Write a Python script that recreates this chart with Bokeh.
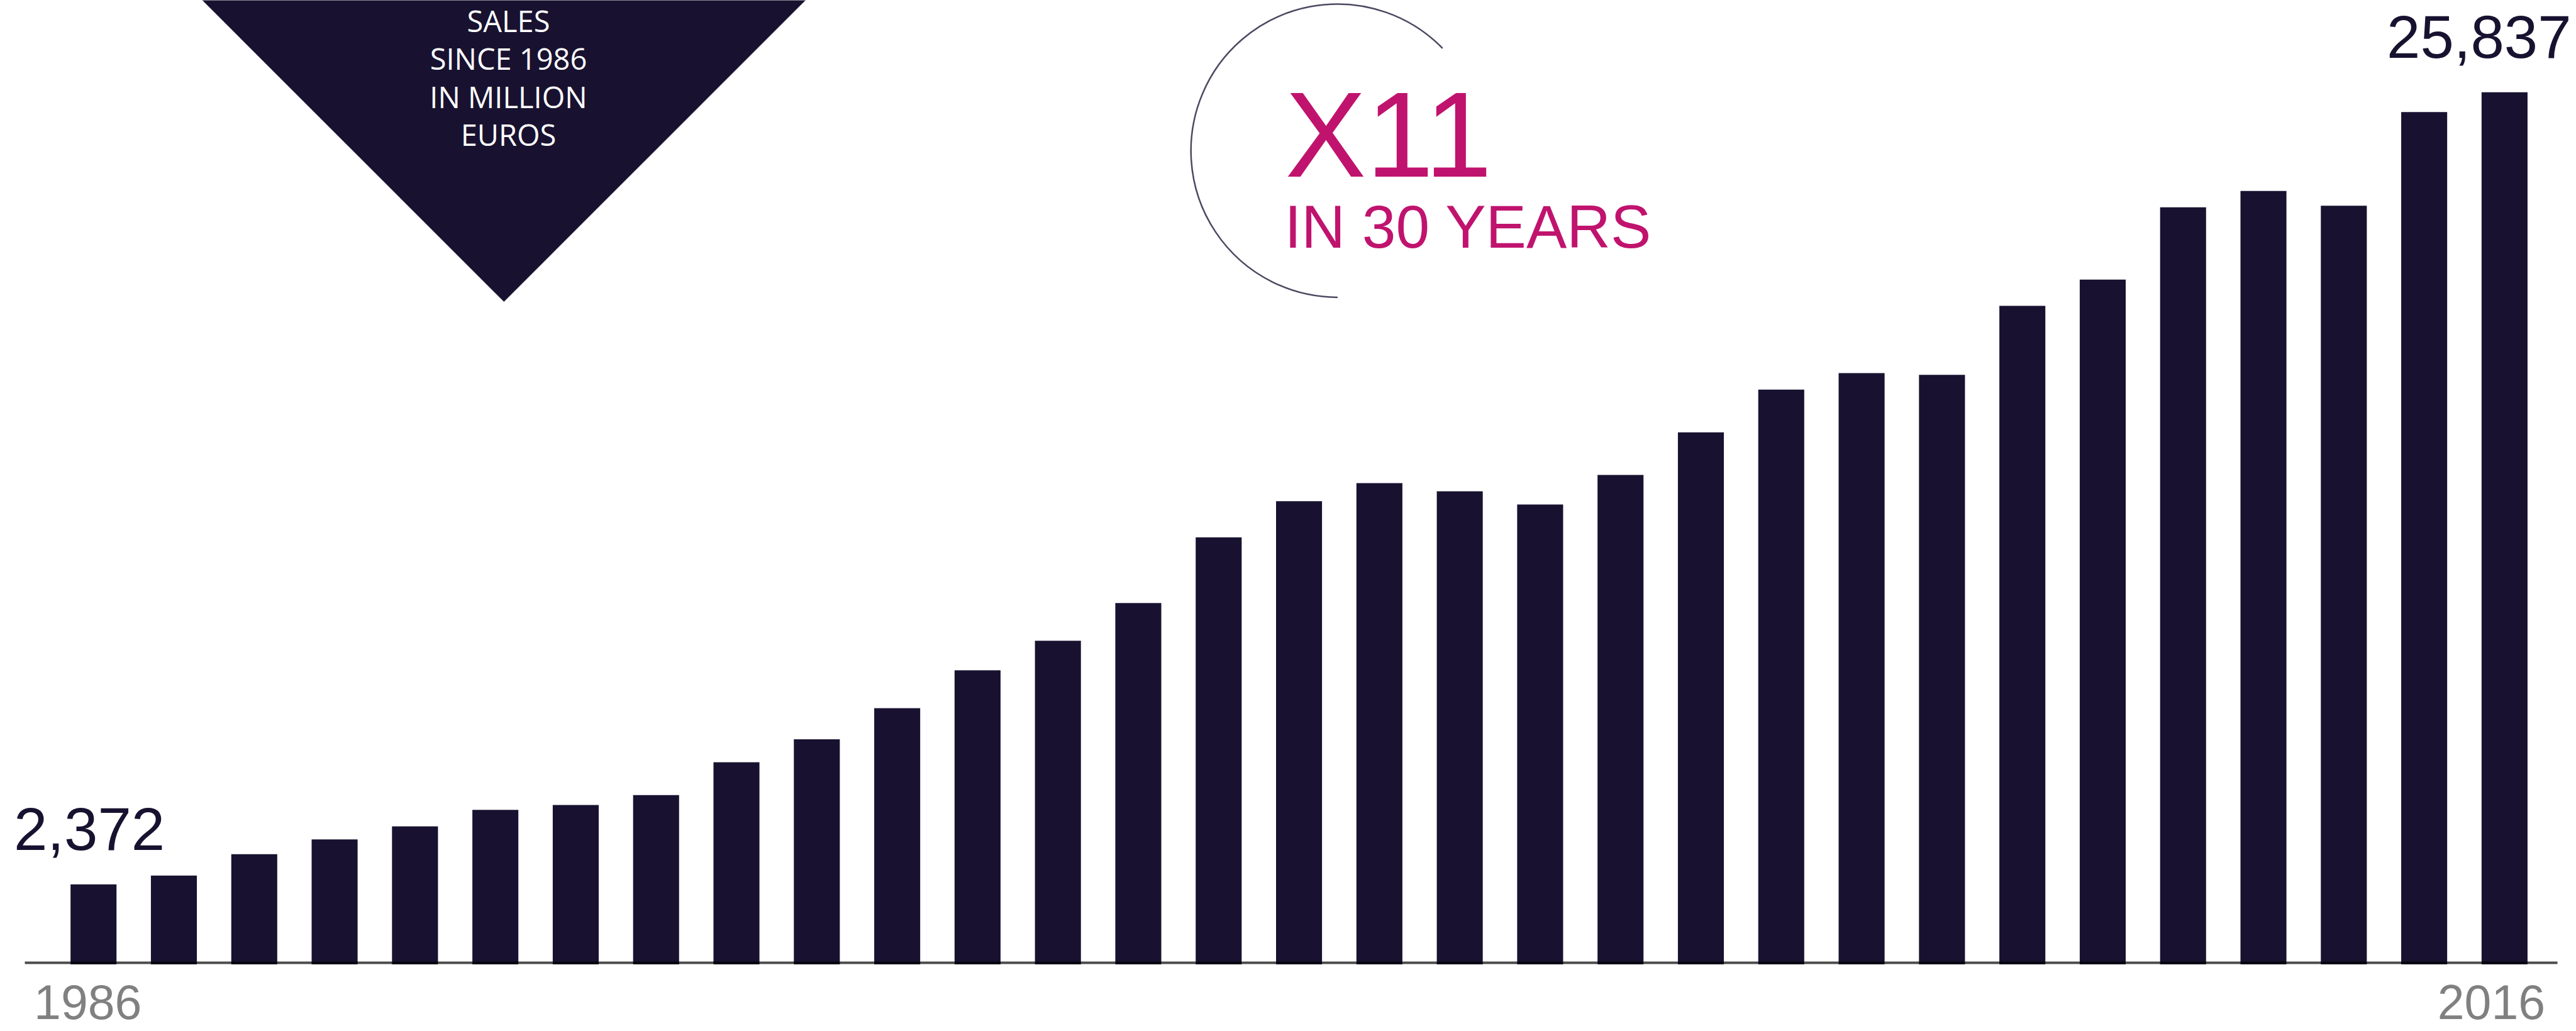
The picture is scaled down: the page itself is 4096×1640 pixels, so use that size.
import numpy as np
from bokeh.plotting import figure
from bokeh.models import Range1d
from bokeh.core.properties import value
from bokeh.embed import file_html
from bokeh.resources import INLINE

# ---------------- data ----------------
years = list(range(1986, 2017))
sales = [2372, 2631, 3264, 3701, 4090, 4577, 4723, 5015, 5987, 6668,
         7592, 8711, 9587, 10705, 12651, 13721, 14256, 14013, 13624, 14499,
         15763, 17028, 17514, 17466, 19509, 20287, 22427, 22913, 22476, 25248,
         25837]
title_lines = ["SALES", "SINCE 1986", "IN MILLION", "EUROS"]
callout_big = "X11"
callout_small = "IN 30 YEARS"

# ---------------- styling ----------------
NAVY = "#181230"
MAGENTA = "#c0136e"
GREY = "#808080"
ARC_COLOR = "#4b4a62"

W, H = 4096, 1640
PX = 127.79          # screen px per year
X0F = 148.2          # screen x of first year's bar centre
Y0F = 1533.6         # screen y (from top) of value 0
KY = 0.05370         # screen px per million euros


def xpx(fx):
    return years[0] + (fx - X0F) / PX


def ypx(fy):
    return (Y0F - fy) / KY


def base(fy, size, frac=0.36):
    # compensate renderer's baseline placement
    return ypx(fy - frac * size)


p = figure(width=W, height=H, x_range=Range1d(xpx(0), xpx(W)),
           y_range=Range1d(ypx(H), ypx(0)), x_axis_type=None, y_axis_type=None,
           output_backend="svg", toolbar_location=None, min_border=0,
           outline_line_color=None, background_fill_color="white",
           border_fill_color="white")
p.grid.visible = False

# triangle banner (top-left)
apex_x, apex_y = 800.8, 479.5
top_y = -40
p.patch(x=[xpx(apex_x - (apex_y - top_y)), xpx(apex_x + (apex_y - top_y)), xpx(apex_x)],
        y=[ypx(top_y), ypx(top_y), ypx(apex_y)], fill_color=NAVY, line_color=None)

tx = xpx(808.0)
line_base = [51.0, 111.5, 172.0, 232.5]
p.text(x=[tx] * len(title_lines), y=[base(b, 47, 0.40) for b in line_base], text=title_lines,
       text_font=value("Open Sans"), text_font_size="47px", text_color="white",
       text_align="center", text_baseline="alphabetic")

# bars
p.vbar(x=years, top=sales, bottom=0, width=0.572, fill_color=NAVY, line_color=None)

# baseline
p.segment(x0=[xpx(39)], y0=[ypx(Y0F - 2.5)], x1=[xpx(4066)], y1=[ypx(Y0F - 2.5)],
          line_color="black", line_alpha=0.7, line_width=4)

# first / last value labels
gap = (53.4 + 0.36 * 96) / KY
p.text(x=[years[0] - 6.6 / PX, years[-1] - 40.6 / PX],
       y=[sales[0] + gap, sales[-1] + gap],
       text=[f"{sales[0]:,}", f"{sales[-1]:,}"],
       text_font=value("Liberation Sans"), text_font_size="96px", text_color=NAVY,
       text_align="center", text_baseline="alphabetic")

# first / last year labels
p.text(x=[years[0] - 9.0 / PX, years[-1] - 21.0 / PX], y=[base(1621.5, 77)] * 2,
       text=[str(years[0]), str(years[-1])],
       text_font=value("Liberation Sans"), text_font_size="77px", text_color=GREY,
       text_align="center", text_baseline="alphabetic")

# callout arc
p.arc(x=[xpx(2126.4)], y=[ypx(239.2)], radius=233.2, radius_units="screen",
      start_angle=np.deg2rad(44.3), end_angle=np.deg2rad(270), direction="anticlock",
      line_color=ARC_COLOR, line_width=2.5)

p.text(x=[xpx(2043)], y=[base(276.8, 193, 0.33)], text=[callout_big],
       text_font=value("Liberation Sans"), text_font_size="193px", text_color=MAGENTA,
       text_align="left", text_baseline="alphabetic")
p.text(x=[xpx(2042)], y=[base(394.6, 96.5)], text=[callout_small],
       text_font=value("Liberation Sans"), text_font_size="96.5px", text_color=MAGENTA,
       text_align="left", text_baseline="alphabetic")

open("out.html", "w").write(file_html(p, INLINE))
